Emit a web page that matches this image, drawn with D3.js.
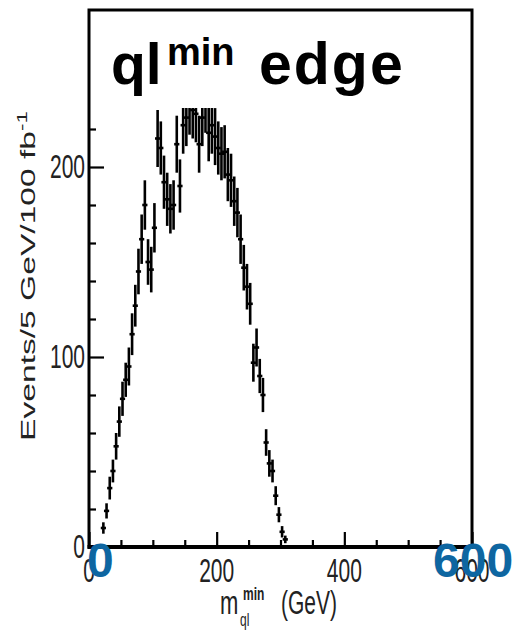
<!DOCTYPE html>
<html>
<head>
<meta charset="utf-8">
<script src="https://cdnjs.cloudflare.com/ajax/libs/d3/7.8.5/d3.min.js"></script>
<style>
  body { margin: 0; background: #fff; }
  svg { display: block; font-family: 'Liberation Sans', Arial, Helvetica, sans-serif; }
</style>
</head>
<body>
<script>
'use strict'
/* global d3 */

// Our canvas
const width = 514,
  height = 633

// histogram, 5 GeV bins (centres in GeV)
const binCentres = [22.5, 27.5, 32.5, 37.5, 42.5, 47.5, 52.5, 57.5, 62.5, 67.5,
  72.5, 77.5, 82.5, 87.5, 92.5, 97.5, 102.5, 107.5, 112.5, 117.5,
  122.5, 127.5, 132.5, 137.5, 142.5, 147.5, 152.5, 157.5, 162.5, 167.5,
  172.5, 177.5, 182.5, 187.5, 192.5, 197.5, 202.5, 207.5, 212.5, 217.5,
  222.5, 227.5, 232.5, 237.5, 242.5, 247.5, 252.5, 257.5, 262.5, 267.5,
  272.5, 277.5, 282.5, 287.5, 292.5, 297.5, 302.5, 307.5]
const events = [10, 19, 31, 40, 53, 66, 78, 88, 95, 112,
  127, 145, 162, 180, 150, 146, 168, 215, 210, 192,
  183, 178, 180, 212, 190, 222, 226, 232, 230, 228,
  212, 226, 233, 218, 222, 216, 210, 207, 208, 196,
  193, 182, 176, 162, 147, 137, 128, 97, 105, 90,
  80, 55, 44, 40, 27, 17, 8, 4]
const errors = [3, 4, 6, 6, 7, 8, 9, 9, 10, 11,
  11, 12, 13, 13, 12, 12, 13, 15, 14, 14,
  14, 13, 13, 15, 14, 15, 15, 15, 15, 15,
  15, 15, 15, 15, 15, 15, 14, 14, 14, 14,
  14, 13, 13, 13, 12, 12, 11, 10, 10, 9,
  9, 7, 7, 6, 5, 4, 3, 2]
const binWidth = 5

// ticks
const xMajor = [0, 200, 400, 600]
const xMinor = [50, 100, 150, 250, 300, 350, 450, 500, 550]
const yMajor = [0, 100, 200]
const yMinor = [20, 40, 60, 80, 120, 140, 160, 180, 220]
const overlayLabels = ['0', '600']

const svg = d3.select('body')
  .append('svg')
  .attr('width', width)
  .attr('height', height)

const x = d3.scaleLinear().domain([0, 600]).range([89, 472])
const y = d3.scaleLinear().domain([0, 200]).range([547, 167])
const frameTop = 10

// clip: the histogram is cut off under the title box
svg.append('clipPath').attr('id', 'clip')
  .append('rect')
  .attr('x', x(0)).attr('y', 108)
  .attr('width', x(600) - x(0)).attr('height', y(0) - 108)

// data
const bins = svg.append('g')
  .attr('clip-path', 'url(#clip)')
  .attr('stroke', '#000')
  .attr('stroke-width', 2.6)

bins.selectAll('line.err')
  .data(events)
  .enter()
  .append('line')
  .attr('class', 'err')
  .attr('x1', (d, i) => x(binCentres[i]))
  .attr('x2', (d, i) => x(binCentres[i]))
  .attr('y1', (d, i) => y(d - errors[i]))
  .attr('y2', (d, i) => y(d + errors[i]))

bins.selectAll('line.val')
  .data(events)
  .enter()
  .append('line')
  .attr('class', 'val')
  .attr('x1', (d, i) => x(binCentres[i] - binWidth / 2) - 1)
  .attr('x2', (d, i) => x(binCentres[i] + binWidth / 2) + 1)
  .attr('y1', (d) => y(d))
  .attr('y2', (d) => y(d))

// ticks
let tickAxis = (axis, tr) => {
  let g = svg.append('g').attr('transform', tr).call(axis)
  g.select('.domain').remove()
  g.selectAll('line').attr('stroke', '#000').attr('stroke-width', 2.2)
}
tickAxis(d3.axisBottom(x).tickValues(xMinor).tickSize(-7).tickFormat(''), `translate(0,${y(0)})`)
tickAxis(d3.axisBottom(x).tickValues(xMajor).tickSize(-15).tickFormat(''), `translate(0,${y(0)})`)
tickAxis(d3.axisLeft(y).tickValues(yMinor).tickSize(-7).tickFormat(''), `translate(${x(0)},0)`)
tickAxis(d3.axisLeft(y).tickValues(yMajor).tickSize(-15).tickFormat(''), `translate(${x(0)},0)`)

// frame
svg.append('rect')
  .attr('x', x(0)).attr('y', frameTop)
  .attr('width', x(600) - x(0)).attr('height', y(0) - frameTop)
  .attr('fill', 'none')
  .attr('stroke', '#000')
  .attr('stroke-width', 3)
svg.append('line')
  .attr('x1', x(0) - 1.5).attr('x2', x(600) + 1.5)
  .attr('y1', y(0)).attr('y2', y(0))
  .attr('stroke', '#000').attr('stroke-width', 4)

// tick labels (the scan is stretched vertically)
svg.selectAll('text.xl')
  .data(xMajor)
  .enter()
  .append('text')
  .attr('class', 'xl')
  .attr('transform', (d) => `translate(${x(d)},582) scale(1,1.55)`)
  .attr('text-anchor', 'middle')
  .attr('font-size', 21)
  .attr('fill', '#222')
  .text((d) => d)

svg.selectAll('text.yl')
  .data(yMajor)
  .enter()
  .append('text')
  .attr('class', 'yl')
  .attr('transform', (d) => `translate(85,${y(d) + 11}) scale(1,1.55)`)
  .attr('text-anchor', 'end')
  .attr('font-size', 21)
  .attr('fill', '#222')
  .text((d) => d)

// y axis title
let yt = svg.append('text')
  .attr('transform', 'translate(35,276) rotate(-90) scale(1.6,1)')
  .attr('text-anchor', 'middle')
  .attr('font-size', 21)
  .attr('fill', '#222')
yt.append('tspan').text('Events/5 GeV/100 fb')
yt.append('tspan').attr('font-size', 14).attr('dy', -8).text('-1')

// x axis title
let xt = svg.append('g').attr('fill', '#222')
xt.append('text').attr('transform', 'translate(220,614) scale(1,1.55)')
  .attr('font-size', 22).text('m')
xt.append('text').attr('transform', 'translate(240,626) scale(1,1.5)')
  .attr('font-size', 12).text('ql')
xt.append('text').attr('transform', 'translate(243,600) scale(1,1.55)')
  .attr('font-size', 12).attr('font-weight', 'bold').text('min')
xt.append('text').attr('transform', 'translate(281,614) scale(1,1.55)')
  .attr('font-size', 21).text('(GeV)')

// title
let title = svg.append('text')
  .attr('font-weight', 'bold')
  .attr('fill', '#000')
title.append('tspan').attr('x', 111).attr('y', 84).attr('font-size', 57).text('ql')
title.append('tspan').attr('x', 167).attr('y', 65).attr('font-size', 38).text('min')
title.append('tspan').attr('x', 259).attr('y', 84).attr('font-size', 59)
  .attr('letter-spacing', 2).text('edge')

// big blue range labels
svg.selectAll('text.big')
  .data(overlayLabels)
  .enter()
  .append('text')
  .attr('class', 'big')
  .attr('x', (d, i) => i === 0 ? 87 : 433)
  .attr('y', 577)
  .attr('font-size', 48)
  .attr('font-weight', 'bold')
  .attr('fill', '#0e66a1')
  .text((d) => d)
</script>
</body>
</html>
